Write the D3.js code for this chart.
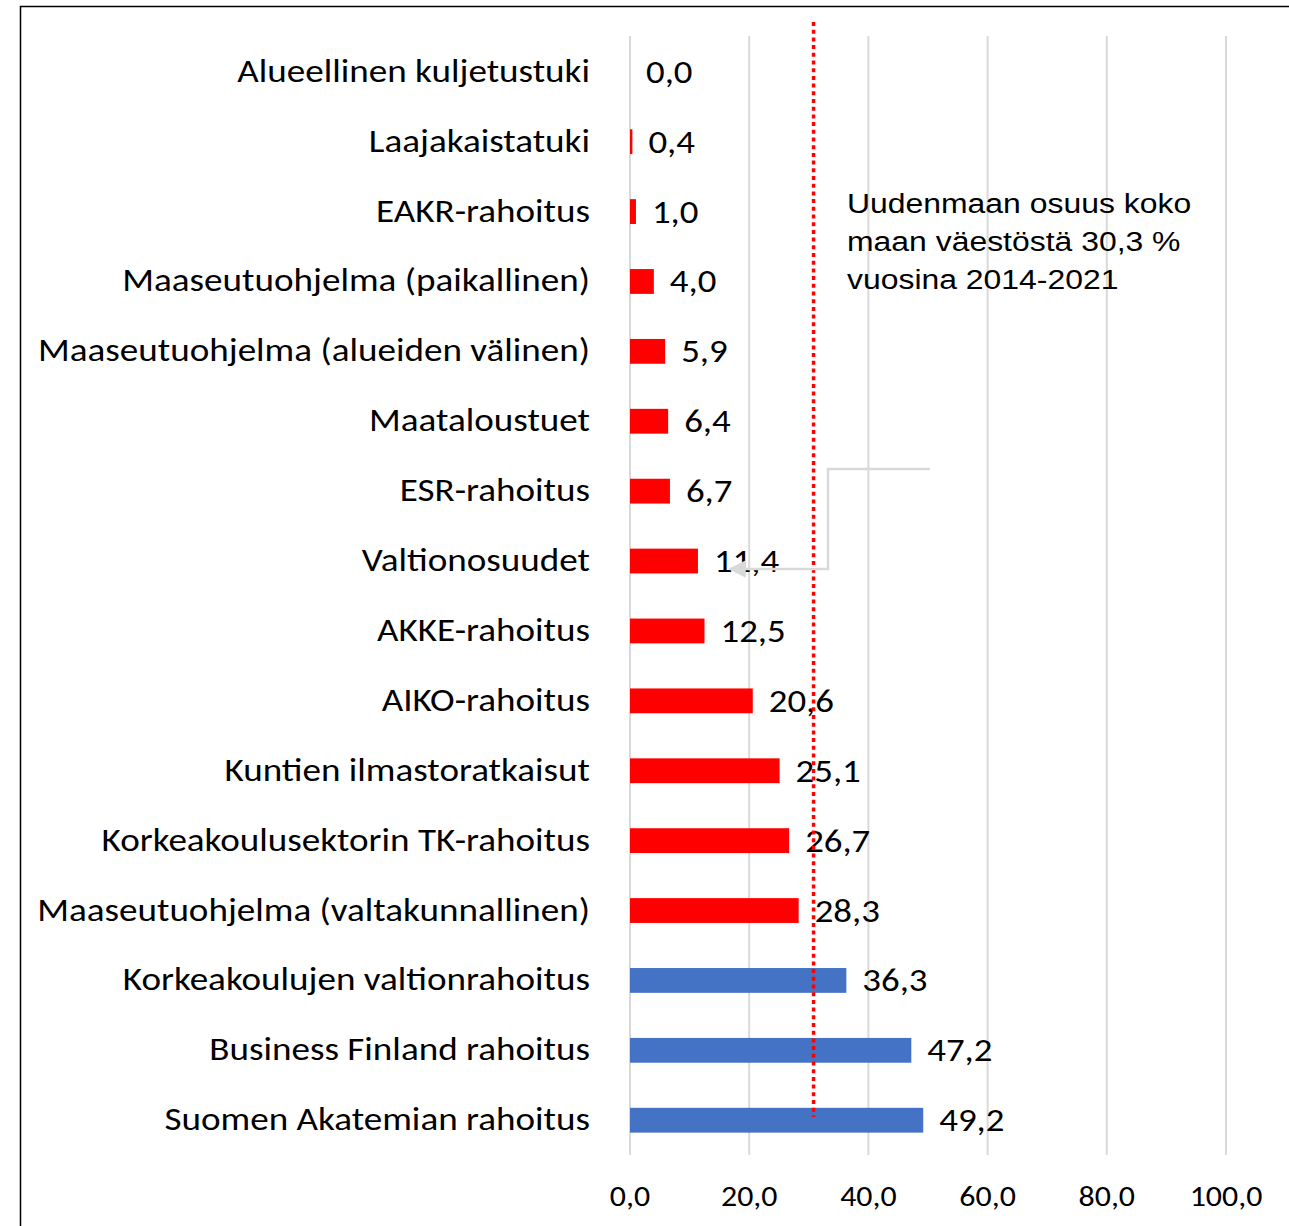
<!DOCTYPE html>
<html>
<head>
<meta charset="utf-8">
<script src="https://cdn.jsdelivr.net/npm/d3@7"></script>
<style>
  body { margin: 0; background: #fff; }
  svg { display: block; }
</style>
</head>
<body>
<div id="chart"></div>
<script>
  // data
  const categories = [
    "Alueellinen kuljetustuki",
    "Laajakaistatuki",
    "EAKR-rahoitus",
    "Maaseutuohjelma (paikallinen)",
    "Maaseutuohjelma (alueiden välinen)",
    "Maataloustuet",
    "ESR-rahoitus",
    "Valtionosuudet",
    "AKKE-rahoitus",
    "AIKO-rahoitus",
    "Kuntien ilmastoratkaisut",
    "Korkeakoulusektorin TK-rahoitus",
    "Maaseutuohjelma (valtakunnallinen)",
    "Korkeakoulujen valtionrahoitus",
    "Business Finland rahoitus",
    "Suomen Akatemian rahoitus"
  ]
  const values = [0.0, 0.4, 1.0, 4.0, 5.9, 6.4, 6.7, 11.4, 12.5, 20.6, 25.1, 26.7, 28.3, 36.3, 47.2, 49.2]
  const xTicks = [0, 20, 40, 60, 80, 100]
  const refLine = 30.8
  const noteLines = ["Uudenmaan osuus koko", "maan väestöstä 30,3 %", "vuosina 2014-2021"]

  const width = 1289
  const height = 1226
  const fmt = d => d.toFixed(1).replace(".", ",")
  // the reference text is slightly stretched horizontally
  const stretch = (px, py, s) => `translate(${px},${py}) scale(${s},1)`

  const svg = d3.select("#chart").append("svg")
    .attr("width", width)
    .attr("height", height)

  // chart frame
  svg.append("path")
    .attr("d", `M20.5,${height + 2} V6.5 H${width + 2}`)
    .attr("fill", "none")
    .attr("stroke", "#000")
    .attr("stroke-width", 1.5)

  const x = d3.scaleLinear().domain([0, 100]).range([630, 1226])
  const y = d3.scaleBand().domain(categories).range([37, 1155]).paddingInner(0.645).paddingOuter(0.32)

  // gridlines
  svg.append("g")
    .selectAll("line")
    .data(xTicks)
    .join("line")
      .attr("x1", d => x(d)).attr("x2", d => x(d))
      .attr("y1", 36).attr("y2", 1155)
      .attr("stroke", "#d9d9d9")
      .attr("stroke-width", 2)

  // bars
  svg.append("g")
    .selectAll("rect")
    .data(values)
    .join("rect")
      .attr("x", x(0))
      .attr("y", (d, i) => y(categories[i]))
      .attr("width", d => x(d) - x(0))
      .attr("height", y.bandwidth())
      .attr("fill", (d, i) => i >= 13 ? "#4472c4" : "#ff0000")

  // value labels
  svg.append("g")
    .selectAll("text")
    .data(values)
    .join("text")
      .attr("transform", (d, i) => stretch(x(d) + 16, y(categories[i]) + y.bandwidth() / 2 + 11, 1.15))
      .attr("font-family", "Carlito, Lato, sans-serif")
      .attr("font-size", 32)
      .attr("fill", "#000")
      .text(fmt)

  // category labels
  svg.append("g")
    .selectAll("text")
    .data(categories)
    .join("text")
      .attr("transform", d => stretch(590, y(d) + y.bandwidth() / 2 + 10, 1.16))
      .attr("text-anchor", "end")
      .attr("font-family", "Carlito, Lato, sans-serif")
      .attr("font-size", 32)
      .attr("fill", "#000")
      .text(d => d)

  // x axis labels
  svg.append("g")
    .selectAll("text")
    .data(xTicks)
    .join("text")
      .attr("transform", d => stretch(x(d), 1206, 1.14))
      .attr("text-anchor", "middle")
      .attr("font-family", "Carlito, Lato, sans-serif")
      .attr("font-size", 28)
      .attr("fill", "#000")
      .text(fmt)

  // reference line (dotted)
  svg.append("line")
    .attr("x1", x(refLine)).attr("x2", x(refLine))
    .attr("y1", 22).attr("y2", 1117)
    .attr("stroke", "#ff0000")
    .attr("stroke-width", 3.5)
    .attr("stroke-dasharray", "4,3.7")

  // annotation connector
  svg.append("defs").append("marker")
    .attr("id", "arr")
    .attr("viewBox", "0 0 10 10")
    .attr("refX", 9).attr("refY", 5)
    .attr("markerWidth", 7).attr("markerHeight", 7)
    .attr("markerUnits", "strokeWidth")
    .attr("orient", "auto")
    .append("path")
      .attr("d", "M0,0 L10,5 L0,10 Z")
      .attr("fill", "#d9d9d9")

  const ay = y("Valtionosuudet") + y.bandwidth() / 2 + 8
  svg.append("path")
    .attr("d", `M930,469 H828 V${ay} H730`)
    .attr("fill", "none")
    .attr("stroke", "#d9d9d9")
    .attr("stroke-width", 2.5)
    .attr("marker-end", "url(#arr)")

  svg.append("g")
    .selectAll("text")
    .data(noteLines)
    .join("text")
      .attr("transform", (d, i) => stretch(847, 213 + i * 38, 1.14))
      .attr("font-family", "Liberation Sans, Arial, sans-serif")
      .attr("font-size", 28)
      .attr("fill", "#000")
      .text(d => d)
</script>
</body>
</html>
